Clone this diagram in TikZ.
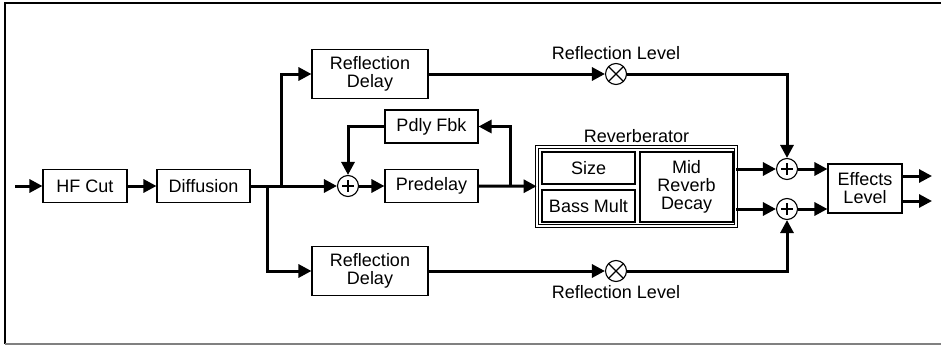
\documentclass[tikz,border=0pt]{standalone}
\usepackage{fontspec}
\setmainfont{Liberation Sans}
\usetikzlibrary{arrows.meta,positioning}

\tikzset{
  box/.style={draw, line width=1.1pt, inner sep=1pt, align=center,
    minimum height=33pt, minimum width=93pt},
  sig/.style={line width=3pt, -{Triangle[length=13pt,width=13pt]}},
  adder/.style={circle, draw, line width=1.1pt, minimum size=21pt, inner sep=0pt,
    path picture={
      \draw[line width=1.1pt] ([yshift=6pt]path picture bounding box.center) -- ([yshift=-6pt]path picture bounding box.center);
      \draw[line width=1.1pt] ([xshift=-6pt]path picture bounding box.center) -- ([xshift=6pt]path picture bounding box.center);}},
  mult/.style={circle, draw, line width=1.1pt, minimum size=21pt, inner sep=0pt,
    path picture={
      \draw[line width=1.1pt] ([shift={(45:10.5pt)}]path picture bounding box.center) -- ([shift={(225:10.5pt)}]path picture bounding box.center);
      \draw[line width=1.1pt] ([shift={(135:10.5pt)}]path picture bounding box.center) -- ([shift={(315:10.5pt)}]path picture bounding box.center);}},
}

\begin{document}
\begin{tikzpicture}[x=1pt, y=-1pt, font=\fontsize{18}{18}\selectfont]
  \useasboundingbox (0,0) rectangle (941,345);

  % frame
  \draw[line width=2pt] (5,344) -- (5,3) -- (941,3);
  \draw[gray, line width=1.2pt] (5,344) -- (941,344);

  % input chain
  \coordinate (in) at (15,186);
  \node[box, minimum width=84pt] (hf) at (85,186) {HF Cut};
  \node[box] (dif) at (203.5,186) {Diffusion};

  % reflections
  \node[box, minimum width=116pt, minimum height=49pt] (rdT) at (370,74) {Reflection\\Delay};
  \node[box, minimum width=116pt, minimum height=49pt] (rdB) at (370,271) {Reflection\\Delay};
  \node[mult] (mulT) at (616,74) {};
  \node[mult] (mulB) at (616,271) {};
  \node[above=0pt of mulT] (lvlT) {Reflection Level};
  \node[below=0pt of mulB] (lvlB) {Reflection Level};

  % predelay with feedback
  \node[adder] (addM) at (348,186) {};
  \node[box] (pre) at (431.5,186) {Predelay};
  \node[box] (fbk) at (431.5,126.5) {Pdly Fbk};
  \coordinate (brD) at (267,186);
  \coordinate (brU) at (281,186);
  \coordinate (tap) at (510,186);

  % reverberator
  \node[draw, double, double distance=2pt, line width=0.9pt, minimum width=199pt,
    minimum height=79pt] (rev) at (636.5,186.5) {};
  \node[above=0pt of rev] (revlbl) {Reverberator};
  \node[box, minimum height=32pt] (size) at (588.5,168) {Size};
  \node[box, minimum height=32pt] (bass) at (588.5,206) {Bass Mult};
  \node[box, minimum height=70pt] (mid) at (686.5,187) {Mid\\Reverb\\Decay};

  % mixing
  \node[adder] (addT) at (787,169) {};
  \node[adder] (addB) at (787,209) {};
  \node[box, minimum width=74pt, minimum height=49pt] (eff) at (865,188.5) {Effects\\Level};
  \coordinate (outT) at (932,176);
  \coordinate (outB) at (932,201);

  \draw[sig] (in) -- (hf);
  \draw[sig] (hf) -- (dif);
  \draw[sig] (dif) -- (addM);
  \draw[sig] (brU) |- (rdT);
  \draw[sig] (brD) |- (rdB);
  \draw[sig] (addM) -- (pre);
  \draw[sig] (pre) -- (rev);
  \draw[sig] (tap) |- (fbk);
  \draw[sig] (fbk) -| (addM);
  \draw[sig] (rdT) -- (mulT);
  \draw[sig] (rdB) -- (mulB);
  \draw[sig] (mulT) -| (addT);
  \draw[sig] (mulB) -| (addB);
  \draw[sig] (rev.east |- addT) -- (addT);
  \draw[sig] (rev.east |- addB) -- (addB);
  \draw[sig] (addT) -- (addT -| eff.west);
  \draw[sig] (addB) -- (addB -| eff.west);
  \draw[sig] (eff.east |- outT) -- (outT);
  \draw[sig] (eff.east |- outB) -- (outB);
\end{tikzpicture}
\end{document}
